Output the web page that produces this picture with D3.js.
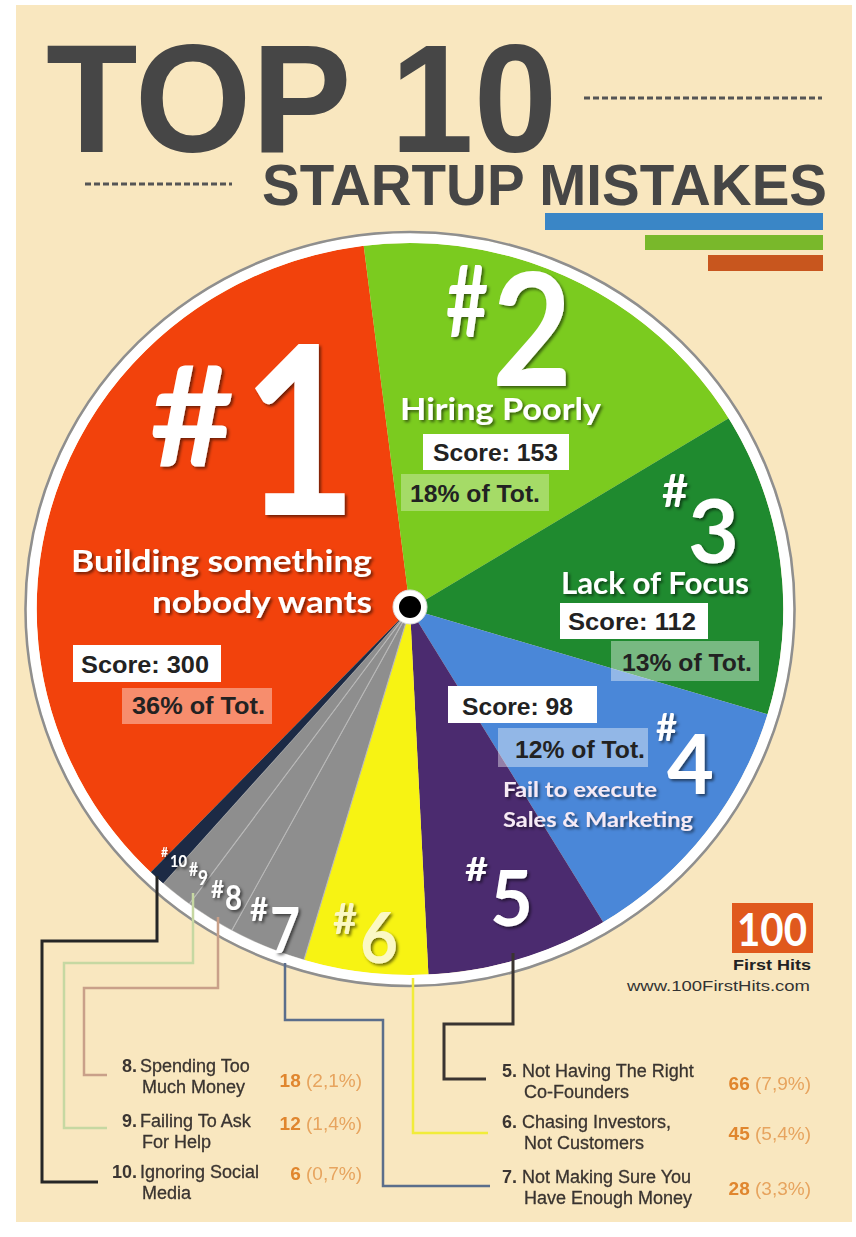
<!DOCTYPE html>
<html>
<head>
<meta charset="utf-8">
<script src="https://cdn.jsdelivr.net/npm/d3@7"></script>
<style>
  body { margin: 0; background: #fff; }
</style>
</head>
<body>
<div id="chart"></div>
<script>
const ranks = [1, 2, 3, 4, 5, 6, 7, 8, 9, 10];
const scores = [300, 153, 112, 98, 66, 45, 28, 18, 12, 6];
const shares = ["36%", "18%", "13%", "12%", "7,9%", "5,4%", "3,3%", "2,1%", "1,4%", "0,7%"];
const pieTitles = [
  ["Building something", "nobody wants"],
  ["Hiring Poorly"],
  ["Lack of Focus"],
  ["Fail to execute", "Sales & Marketing"]
];
const legendTitles = [
  ["Not Having The Right", "Co-Founders"],
  ["Chasing Investors,", "Not Customers"],
  ["Not Making Sure You", "Have Enough Money"],
  ["Spending Too", "Much Money"],
  ["Failing To Ask", "For Help"],
  ["Ignoring Social", "Media"]
];
const sliceColors = ["#f2420c", "#7bcb1f", "#1f8a2f", "#4a87d8", "#4b2b6f", "#f7f313", "#8e8e8e", "#8e8e8e", "#8e8e8e", "#1c2a45"];
const leaderColors = ["#3a3431", "#f1ec3a", "#5b6e8b", "#c9a089", "#c6d8a2", "#262626"];

const width = 856, height = 1237;

const svg = d3.select("#chart")
  .append("svg")
  .attr("width", width)
  .attr("height", height)
  .style("font-family", "'Liberation Sans', Arial, sans-serif");

const defs = svg.append("defs");
defs.append("filter").attr("id", "shadow")
  .attr("x", "-20%").attr("y", "-20%").attr("width", "150%").attr("height", "150%")
  .append("feDropShadow")
  .attr("dx", 2).attr("dy", 2).attr("stdDeviation", 1.4)
  .attr("flood-color", "#000").attr("flood-opacity", 0.55);
defs.append("filter").attr("id", "soft")
  .append("feGaussianBlur").attr("stdDeviation", 0.35);

// beige paper
svg.append("rect")
  .attr("x", 16).attr("y", 5)
  .attr("width", 836).attr("height", 1217)
  .attr("fill", "#f9e7bf");

// ---- title ----
svg.append("text")
  .attr("x", 46).attr("y", 152)
  .attr("font-size", 154).attr("font-weight", 700)
  .attr("textLength", 511).attr("lengthAdjust", "spacingAndGlyphs")
  .attr("fill", "#464646")
  .text("TOP 10");

svg.append("text")
  .attr("x", 262).attr("y", 205)
  .attr("font-size", 58).attr("font-weight", 700)
  .attr("textLength", 565).attr("lengthAdjust", "spacingAndGlyphs")
  .attr("fill", "#464646")
  .text("STARTUP MISTAKES");

svg.append("line")
  .attr("x1", 584).attr("x2", 822).attr("y1", 98).attr("y2", 98)
  .attr("stroke", "#555").attr("stroke-width", 3).attr("stroke-dasharray", "6,3");
svg.append("line")
  .attr("x1", 85).attr("x2", 232).attr("y1", 184).attr("y2", 184)
  .attr("stroke", "#555").attr("stroke-width", 3).attr("stroke-dasharray", "6,3");

// little stacked bars under the title
svg.append("rect").attr("x", 545).attr("y", 213).attr("width", 278).attr("height", 17).attr("fill", "#3a86c6");
svg.append("rect").attr("x", 645).attr("y", 235).attr("width", 178).attr("height", 15).attr("fill", "#79b82b");
svg.append("rect").attr("x", 708).attr("y", 255).attr("width", 115).attr("height", 16).attr("fill", "#c8561e");

// ---- pie ----
const cx = 410, cy = 609, radius = 366;

const pie = d3.pie()
  .sort(null)
  .value((d) => d)
  .startAngle(-136 * Math.PI / 180)
  .endAngle(224 * Math.PI / 180);

const arc = d3.arc().innerRadius(0).outerRadius(radius);

const pieG = svg.append("g")
  .attr("transform", `translate(${cx}, ${cy}) scale(1.02, 1)`);

pieG.selectAll("path.slice")
  .data(pie(scores))
  .join("path")
  .attr("class", "slice")
  .attr("d", arc)
  .attr("fill", (d, i) => sliceColors[i])
  .attr("stroke", (d, i) => (i >= 6 && i <= 8 ? "#b9b9b9" : "none"))
  .attr("stroke-width", 1);

// white rim + thin grey outline
pieG.append("circle").attr("r", radius + 5).attr("fill", "none")
  .attr("stroke", "#fff").attr("stroke-width", 10);
pieG.append("circle").attr("r", radius + 11).attr("fill", "none")
  .attr("stroke", "#8f8f8f").attr("stroke-width", 2.5);

// ---- leader lines to the legend ----
const leaderPaths = [
  [[513, 953], [513, 1024], [444, 1024], [444, 1079], [486, 1079]],
  [[413, 978], [413, 1133], [488, 1133]],
  [[285, 963], [285, 1020], [383, 1020], [383, 1186], [490, 1186]],
  [[218, 917], [218, 988], [84, 988], [84, 1075], [107, 1075]],
  [[193, 893], [193, 963], [64, 963], [64, 1128], [107, 1128]],
  [[157, 876], [157, 941], [42, 941], [42, 1182], [98, 1182]]
];
const line = d3.line();
svg.selectAll("path.leader")
  .data(leaderPaths)
  .join("path")
  .attr("class", "leader")
  .attr("d", line)
  .attr("fill", "none")
  .attr("stroke", (d, i) => leaderColors[i])
  .attr("stroke-width", (d, i) => (i === 0 || i === 5 ? 3 : 2.5));

// center hub
svg.append("circle").attr("cx", cx).attr("cy", cy - 2).attr("r", 17)
  .attr("fill", "#fff").attr("stroke", "#ddd").attr("stroke-width", 1);
svg.append("circle").attr("cx", cx).attr("cy", cy - 2).attr("r", 11).attr("fill", "#000");

// ---- rank numbers inside the slices ----
const rankPos = [
  { hx: 150, hy: 467, hs: 140, hw: 84, dx: 242, dy: 515, ds: 236, dw: 115 },
  { hx: 446, hy: 337, hs: 100, hw: 42, dx: 492, dy: 386, ds: 157, dw: 80 },
  { hx: 662, hy: 507, hs: 46, hw: 26, dx: 688, dy: 563, ds: 88, dw: 51 },
  { hx: 656, hy: 741, hs: 38, hw: 21, dx: 667, dy: 794, ds: 83, dw: 47 },
  { hx: 465, hy: 881, hs: 33, hw: 23, dx: 490, dy: 926, ds: 77, dw: 43 },
  { hx: 333, hy: 934, hs: 42, hw: 24, dx: 360, dy: 963, ds: 70, dw: 38 },
  { hx: 250, hy: 921, hs: 32, hw: 18, dx: 270, dy: 953, ds: 64, dw: 30 },
  { hx: 211, hy: 898, hs: 24, hw: 13, dx: 225, dy: 910, ds: 35, dw: 17 },
  { hx: 189, hy: 876, hs: 18, hw: 9, dx: 198, dy: 885, ds: 21, dw: 10 },
  { hx: 161, hy: 857, hs: 13, hw: 7, dx: 170, dy: 867, ds: 17, dw: 17 }
];

const rankG = svg.append("g")
  .style("font-family", "Lato, 'Open Sans', sans-serif")
  .attr("font-weight", 700)
  .attr("filter", "url(#shadow)");

ranks.forEach((r, i) => {
  const p = rankPos[i];
  const col = i === 5 ? "#fbf8c4" : "#fff";
  rankG.append("text")
    .attr("x", p.hx).attr("y", p.hy)
    .attr("font-size", p.hs)
    .attr("textLength", p.hw).attr("lengthAdjust", "spacingAndGlyphs")
    .attr("fill", col)
    .text("#");
  rankG.append("text")
    .attr("x", p.dx).attr("y", p.dy)
    .attr("font-size", p.ds)
    .attr("textLength", p.dw).attr("lengthAdjust", "spacingAndGlyphs")
    .attr("fill", col)
    .text(r);
});

// ---- titles of the four biggest slices ----
const titlePos = [
  { x: 372, anchor: "end", ys: [572, 613], size: 31, lens: [301, 220] },
  { x: 400, anchor: "start", ys: [420], size: 30, lens: [201] },
  { x: 561, anchor: "start", ys: [594], size: 30, lens: [188] },
  { x: 503, anchor: "start", ys: [797, 827], size: 21, lens: [154, 190] }
];
const titleG = svg.append("g")
  .style("font-family", "Lato, 'Open Sans', sans-serif")
  .attr("font-weight", 700)
  .attr("filter", "url(#shadow)");

pieTitles.forEach((lines, i) => {
  const p = titlePos[i];
  lines.forEach((txt, j) => {
    titleG.append("text")
      .attr("x", p.x).attr("y", p.ys[j])
      .attr("text-anchor", p.anchor)
      .attr("font-size", p.size)
      .attr("textLength", p.lens[j]).attr("lengthAdjust", "spacingAndGlyphs")
      .attr("fill", i === 3 ? "#f6eaf4" : "#fff")
      .text(txt);
  });
});

// ---- score / share boxes ----
const boxPos = [
  { s: [73, 645, 148, 37, 81, 673, 128], p: [122, 688, 150, 36, 132, 714, 133] },
  { s: [423, 434, 146, 36, 433, 461, 125], p: [401, 474, 148, 37, 410, 502, 130] },
  { s: [560, 603, 148, 36, 568, 630, 128], p: [611, 641, 148, 40, 622, 671, 130] },
  { s: [448, 686, 149, 37, 462, 715, 111], p: [498, 728, 150, 39, 515, 758, 130] }
];
const boxG = svg.append("g").attr("font-weight", 700).attr("font-size", 24);

boxPos.forEach((b, i) => {
  boxG.append("rect")
    .attr("x", b.s[0]).attr("y", b.s[1]).attr("width", b.s[2]).attr("height", b.s[3])
    .attr("fill", "#fff");
  boxG.append("text")
    .attr("x", b.s[4]).attr("y", b.s[5])
    .attr("textLength", b.s[6]).attr("lengthAdjust", "spacingAndGlyphs")
    .attr("fill", "#222")
    .text(`Score: ${scores[i]}`);
  boxG.append("rect")
    .attr("x", b.p[0]).attr("y", b.p[1]).attr("width", b.p[2]).attr("height", b.p[3])
    .attr("fill", "#fff").attr("fill-opacity", i === 1 ? 0.32 : 0.4);
  boxG.append("text")
    .attr("x", b.p[4]).attr("y", b.p[5])
    .attr("textLength", b.p[6]).attr("lengthAdjust", "spacingAndGlyphs")
    .attr("fill", "#222")
    .text(`${shares[i]} of Tot.`);
});

// ---- logo ----
svg.append("rect").attr("x", 732).attr("y", 903).attr("width", 81).attr("height", 50).attr("fill", "#e0591d");
svg.append("text")
  .attr("x", 772).attr("y", 946).attr("text-anchor", "middle")
  .attr("font-size", 46).style("font-family", "Lato, sans-serif").attr("font-weight", 700)
  .attr("textLength", 70).attr("lengthAdjust", "spacingAndGlyphs")
  .attr("fill", "#fff").text("100");
svg.append("text")
  .attr("x", 772).attr("y", 970).attr("text-anchor", "middle")
  .attr("font-size", 15).attr("font-weight", 700)
  .attr("textLength", 78).attr("lengthAdjust", "spacingAndGlyphs")
  .attr("fill", "#222").text("First Hits");
svg.append("text")
  .attr("x", 810).attr("y", 991).attr("text-anchor", "end")
  .attr("font-size", 14)
  .attr("textLength", 183).attr("lengthAdjust", "spacingAndGlyphs")
  .attr("fill", "#333").text("www.100FirstHits.com");

// ---- legend for 5..10 ----
const legendPos = [
  { numX: 517, textX: 522, valX: 811, y: 1077, valDy: 13 },
  { numX: 517, textX: 522, valX: 811, y: 1128, valDy: 12 },
  { numX: 517, textX: 522, valX: 811, y: 1183, valDy: 12 },
  { numX: 137, textX: 140, valX: 362, y: 1072, valDy: 15 },
  { numX: 137, textX: 140, valX: 362, y: 1127, valDy: 3 },
  { numX: 137, textX: 140, valX: 362, y: 1178, valDy: 2 }
];
const legG = svg.append("g").attr("filter", "url(#soft)");

legendTitles.forEach((lines, k) => {
  const i = k + 4;
  const p = legendPos[k];
  legG.append("text")
    .attr("x", p.numX).attr("y", p.y)
    .attr("text-anchor", "end")
    .attr("font-size", 18).attr("font-weight", 700)
    .attr("fill", "#3a3430")
    .text(`${ranks[i]}.`);
  lines.forEach((txt, j) => {
    legG.append("text")
      .attr("x", p.textX + (j === 0 ? 0 : 2)).attr("y", p.y + j * 21)
      .attr("font-size", 18)
      .attr("fill", "#3a3430")
      .attr("stroke", "#3a3430").attr("stroke-width", 0.3)
      .text(txt);
  });
  const v = legG.append("text")
    .attr("x", p.valX).attr("y", p.y + p.valDy)
    .attr("text-anchor", "end")
    .attr("font-size", 19);
  v.append("tspan").attr("font-weight", 700).attr("fill", "#e0862f").text(scores[i]);
  v.append("tspan").attr("fill", "#e7a45e").text(` (${shares[i]})`);
});
</script>
</body>
</html>
